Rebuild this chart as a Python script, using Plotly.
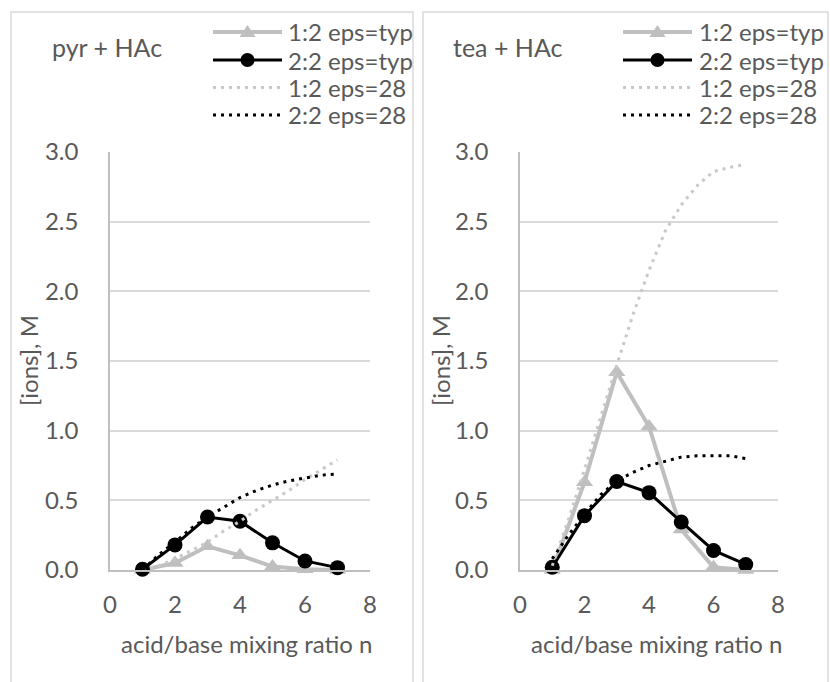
import plotly.graph_objects as go

W, H = 830, 682

# ---------------- data ----------------
n_typ = [1, 2, 3, 4, 5, 6, 7]
n_28 = [1, 1.5, 2, 2.5, 3, 3.5, 4, 4.5, 5, 5.5, 6, 6.5, 7]

pyr_12_typ = [0.0, 0.05, 0.17, 0.105, 0.025, 0.005, 0.0]
pyr_22_typ = [0.005, 0.18, 0.38, 0.35, 0.195, 0.065, 0.017]
pyr_12_28 = [0.0, 0.03, 0.08, 0.14, 0.2, 0.28, 0.35, 0.43, 0.5, 0.57, 0.65, 0.72, 0.79]
pyr_22_28 = [0.0, 0.11, 0.2, 0.3, 0.38, 0.45, 0.52, 0.57, 0.61, 0.64, 0.66, 0.68, 0.69]

tea_12_typ = [0.0, 0.63, 1.42, 1.03, 0.29, 0.02, 0.0]
tea_22_typ = [0.02, 0.39, 0.635, 0.555, 0.345, 0.14, 0.04]
tea_12_28 = [0.03, 0.36, 0.72, 1.1, 1.47, 1.83, 2.15, 2.43, 2.62, 2.76, 2.86, 2.89, 2.91]
tea_22_28 = [0.08, 0.25, 0.4, 0.54, 0.64, 0.7, 0.75, 0.78, 0.81, 0.82, 0.82, 0.82, 0.8]

series_names = ["1:2 eps=typ", "2:2 eps=typ", "1:2 eps=28", "2:2 eps=28"]
panel_titles = ["pyr + HAc", "tea + HAc"]
x_title = "acid/base mixing ratio n"
y_title = "[ions], M"
x_ticks = [0, 2, 4, 6, 8]
y_ticks = [0.0, 0.5, 1.0, 1.5, 2.0, 2.5, 3.0]

# ---------------- styles ----------------
FONT = "Lato"
TXT = "#595959"
GRID = "#d9d9d9"
AXL = "#bfbfbf"
GRAY = "#bfbfbf"
GRAY_DOT = "#c8c8c8"
BLACK = "#000000"
TICK_SIZE = 24
TITLE_SIZE = 24
LEG_SIZE = 24


def px(x):
    return x / W


def py(y):
    return 1 - y / H


fig = go.Figure()

panels = [
    (pyr_12_typ, pyr_22_typ, pyr_12_28, pyr_22_28, "x", "y"),
    (tea_12_typ, tea_22_typ, tea_12_28, tea_22_28, "x2", "y2"),
]

for a, b, c, d, xa, ya in panels:
    fig.add_trace(go.Scatter(x=n_typ, y=a, mode="lines+markers", name=series_names[0],
                             line=dict(color=GRAY, width=4),
                             marker=dict(symbol="triangle-up", size=15, color=GRAY),
                             cliponaxis=False, showlegend=False, xaxis=xa, yaxis=ya))
    fig.add_trace(go.Scatter(x=n_typ, y=b, mode="lines+markers", name=series_names[1],
                             line=dict(color=BLACK, width=3),
                             marker=dict(symbol="circle", size=15, color=BLACK),
                             cliponaxis=False, showlegend=False, xaxis=xa, yaxis=ya))
    fig.add_trace(go.Scatter(x=n_28, y=c, mode="lines", name=series_names[2],
                             line=dict(color=GRAY_DOT, width=3, dash="3px,5px"),
                             cliponaxis=False, showlegend=False, xaxis=xa, yaxis=ya))
    fig.add_trace(go.Scatter(x=n_28, y=d, mode="lines", name=series_names[3],
                             line=dict(color=BLACK, width=3, dash="3px,5px"),
                             cliponaxis=False, showlegend=False, xaxis=xa, yaxis=ya))

y_dom = [py(570), py(152)]
dom_left = [px(110), px(370)]
dom_right = [px(520), px(778)]

xcommon = dict(range=[0, 8], tickvals=x_ticks, ticktext=[str(v) for v in x_ticks],
               showgrid=False, zeroline=False, showline=True, linecolor=AXL, linewidth=1.5,
               ticks="outside", ticklen=12, tickcolor="rgba(0,0,0,0)", automargin=False,
               tickfont=dict(family=FONT, size=TICK_SIZE, color=TXT), fixedrange=True)
ycommon = dict(range=[0, 3], tickvals=y_ticks, ticktext=["%.1f" % v for v in y_ticks],
               showgrid=True, gridcolor=GRID, gridwidth=1.5, zeroline=False,
               showline=True, linecolor=AXL, linewidth=1.5, automargin=False,
               ticks="outside", ticklen=25, tickcolor="rgba(0,0,0,0)",
               tickfont=dict(family=FONT, size=TICK_SIZE, color=TXT), fixedrange=True)

fig.update_layout(
    width=W, height=H, autosize=False,
    margin=dict(l=0, r=0, t=0, b=0, pad=0, autoexpand=False),
    paper_bgcolor="white", plot_bgcolor="white",
    showlegend=False,
    xaxis=dict(domain=dom_left, anchor="y", **xcommon),
    yaxis=dict(domain=y_dom, anchor="x", **ycommon),
    xaxis2=dict(domain=dom_right, anchor="y2", **xcommon),
    yaxis2=dict(domain=y_dom, anchor="x2", **ycommon),
)

shapes = []
annotations = []

# panel borders
for x0, x1 in [(11, 413), (423, 828)]:
    shapes.append(dict(type="path", xref="paper", yref="paper",
                       path="M %f,%f L %f,%f L %f,%f L %f,%f" % (px(x0), py(682), px(x0), py(12),
                                                                 px(x1), py(12), px(x1), py(682)),
                       line=dict(color=GRID, width=1.5)))

# panel titles, axis titles
for i, (tx, xt_c, yt_x) in enumerate([(50, 247, 28), (451, 657, 440)]):
    annotations.append(dict(text=panel_titles[i], xref="paper", yref="paper",
                            x=px(tx), y=py(47), xanchor="left", yanchor="middle",
                            showarrow=False, font=dict(family=FONT, size=25, color=TXT)))
    annotations.append(dict(text=x_title, xref="paper", yref="paper",
                            x=px(xt_c), y=py(643), xanchor="center", yanchor="middle",
                            showarrow=False, font=dict(family=FONT, size=TITLE_SIZE, color=TXT)))
    annotations.append(dict(text=y_title, xref="paper", yref="paper",
                            x=px(yt_x), y=py(361), xanchor="center", yanchor="middle",
                            textangle=-90, showarrow=False,
                            font=dict(family=FONT, size=TITLE_SIZE, color=TXT)))

# manual legends
leg_rows = [32, 60, 87.5, 115]
for lx0, lx1, tx in [(213, 282, 286), (623, 692, 697)]:
    cx = (lx0 + lx1) / 2
    yy = leg_rows[0]
    shapes.append(dict(type="line", xref="paper", yref="paper", x0=px(lx0), x1=px(lx1),
                       y0=py(yy), y1=py(yy), line=dict(color=GRAY, width=4)))
    rt, r2, rs = 8, 4, 7
    shapes.append(dict(type="path", xref="paper", yref="paper",
                       path="M %f,%f L %f,%f L %f,%f Z" % (px(cx - rt), py(yy + r2 + 1),
                                                           px(cx + rt), py(yy + r2 + 1),
                                                           px(cx), py(yy - rs)),
                       fillcolor=GRAY, line=dict(color=GRAY, width=0)))
    yy = leg_rows[1]
    shapes.append(dict(type="line", xref="paper", yref="paper", x0=px(lx0), x1=px(lx1),
                       y0=py(yy), y1=py(yy), line=dict(color=BLACK, width=3)))
    shapes.append(dict(type="circle", xref="paper", yref="paper",
                       x0=px(cx - 7), x1=px(cx + 7), y0=py(yy + 7), y1=py(yy - 7),
                       fillcolor=BLACK, line=dict(color=BLACK, width=0)))
    shapes.append(dict(type="line", xref="paper", yref="paper", x0=px(lx0), x1=px(lx1),
                       y0=py(leg_rows[2]), y1=py(leg_rows[2]),
                       line=dict(color=GRAY_DOT, width=3, dash="3px,5px")))
    shapes.append(dict(type="line", xref="paper", yref="paper", x0=px(lx0), x1=px(lx1),
                       y0=py(leg_rows[3]), y1=py(leg_rows[3]),
                       line=dict(color=BLACK, width=3, dash="3px,5px")))
    for name, yy in zip(series_names, leg_rows):
        annotations.append(dict(text=name, xref="paper", yref="paper",
                                x=px(tx), y=py(yy), xanchor="left", yanchor="middle",
                                showarrow=False, font=dict(family=FONT, size=LEG_SIZE, color=TXT)))

fig.update_layout(shapes=shapes, annotations=annotations)

fig.write_html("out.html", config={"displayModeBar": False},
               post_script="document.body.style.margin='0';document.body.style.overflow='hidden';")
